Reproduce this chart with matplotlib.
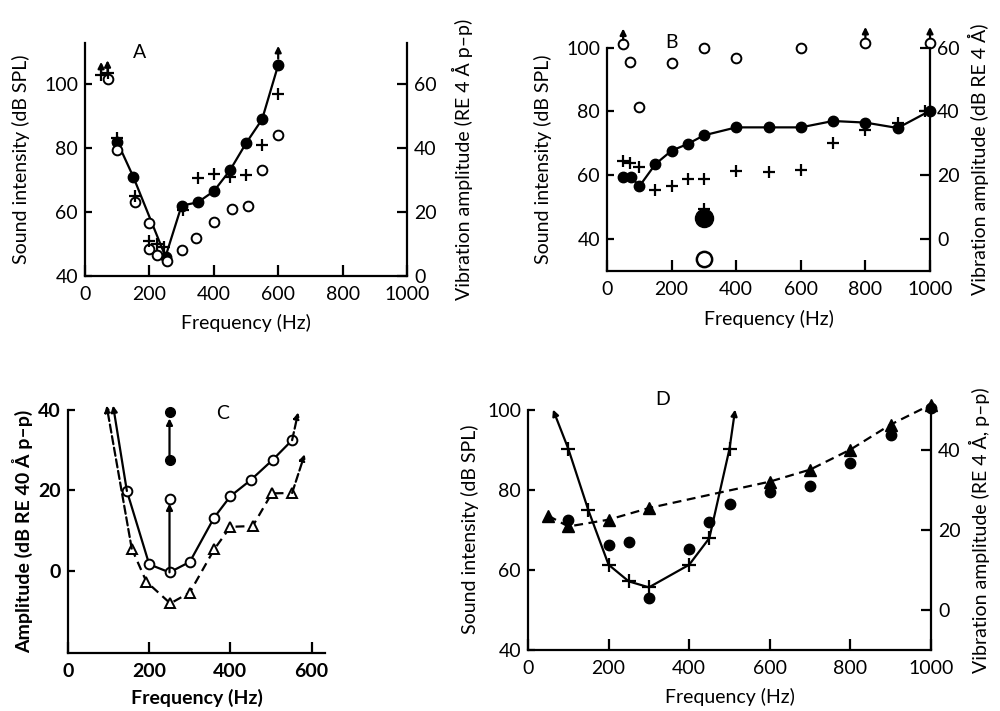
"""
Four-panel threshold / vibration-amplitude figure (panels A-D) redrawn with matplotlib.
"""

import matplotlib

matplotlib.use("Agg")
import matplotlib.pyplot as plt

plt.rcParams["font.family"] = ["Lato", "DejaVu Sans"]

# ---- panel A ---------------------------------------------------------------
A_FILLED_X = [100, 150, 250, 300, 350, 400, 450, 500, 550, 600]
A_FILLED_Y = [82, 71, 46, 62, 63, 66.5, 73, 81.5, 89, 106]
A_PLUS_X = [50, 70, 100, 155, 200, 225, 245, 305, 350, 400, 450, 500, 550, 600]
A_PLUS_Y = [103, 103.5, 83, 65, 51, 50, 49, 60.5, 70.5, 72, 71, 71.5, 81, 97]
A_OPEN_X = [70, 100, 155, 200, 200, 225, 255, 300, 345, 400, 455, 505, 550, 600]
A_OPEN_Y = [101.5, 79.5, 63, 56.5, 48.5, 46.5, 44.5, 48, 52, 57, 61, 62, 73, 84]

# ---- panel B ---------------------------------------------------------------
B_FILLED_X = [50, 75, 100, 150, 200, 250, 300, 400, 500, 600, 700, 800, 900, 1000]
B_FILLED_Y = [59.5, 59.5, 56.5, 63.5, 67.7, 69.8, 72.5, 75, 75, 75, 77, 76.5, 74.8, 80.2]
B_PLUS_X = [50, 72, 100, 150, 200, 250, 300, 400, 500, 600, 700, 800, 900, 985]
B_PLUS_Y = [64.5, 63.7, 62.7, 55.4, 56.7, 58.8, 58.8, 61.4, 60.9, 61.6, 70, 74.2, 76.5, 80.1]
B_OPEN_X = [50, 70, 100, 200, 300, 400, 600, 800, 1000]
B_OPEN_Y = [101, 95.6, 81.5, 95.3, 100, 96.6, 99.8, 101.5, 101.5]
B_BIG_FILLED = (300, 46.5)
B_BIG_OPEN = (300, 33.6)

# ---- panel C ---------------------------------------------------------------
C_OPEN_X = [145, 200, 250, 300, 360, 400, 450, 505, 552]
C_OPEN_Y = [19.8, 1.6, -0.4, 2.2, 13.2, 18.5, 22.5, 27.6, 32.4]
C_TRI_X = [157, 193, 252, 300, 360, 400, 455, 502, 552]
C_TRI_Y = [5.5, -2.7, -8.1, -5.4, 5.3, 10.9, 11.1, 19.2, 19.3]
C_VERT_OPEN = (250, 17.9)
C_VERT_FILLED_X = [250, 250]
C_VERT_FILLED_Y = [27.4, 39.3]

# ---- panel D ---------------------------------------------------------------
D_PLUS_X = [100, 150, 200, 250, 300, 400, 450, 500]
D_PLUS_Y = [90.2, 74.8, 61.25, 57.1, 55.6, 61.25, 67.9, 90.2]
D_TRI_X = [50, 100, 200, 300, 600, 700, 800, 900, 1000]
D_TRI_Y = [73.5, 70.8, 72.5, 75.4, 82, 85, 90, 96.25, 101.25]
D_FILLED_X = [100, 200, 250, 300, 400, 450, 500, 600, 700, 800, 900, 1000]
D_FILLED_Y = [72.5, 66.1, 66.9, 52.9, 65.2, 71.8, 76.5, 79.3, 81, 86.7, 93.75, 100.4]

TICK_SIZE = 14
LABEL_SIZE = 14
LW = 1.6


def style_axes(ax, bold=False):
    weight = "bold" if bold else "normal"
    ax.spines["top"].set_visible(False)
    ax.spines["right"].set_visible(False)
    for side in ("left", "bottom"):
        ax.spines[side].set_linewidth(LW)
    ax.tick_params(axis="both", direction="in", width=LW, labelsize=TICK_SIZE)
    ax.tick_params(axis="x", length=8, pad=7)
    ax.tick_params(axis="y", length=5, pad=5)
    for lab in ax.get_xticklabels() + ax.get_yticklabels():
        lab.set_fontweight(weight)
    ax.set_facecolor("none")


def add_right_axis(ax, offset, ticks, label, labelpad=6):
    lo, hi = ax.get_ylim()
    rax = ax.twinx()
    rax.set_ylim(lo - offset, hi - offset)
    rax.set_yticks(ticks)
    for side in ("top", "left", "bottom"):
        rax.spines[side].set_visible(False)
    rax.spines["right"].set_linewidth(LW)
    rax.tick_params(axis="y", direction="in", length=7, width=LW, labelsize=TICK_SIZE, pad=5)
    rax.set_ylabel(label, fontsize=LABEL_SIZE, labelpad=labelpad)
    return rax


def arrow(ax, start, end, ls="-"):
    ax.annotate(
        "",
        xy=end,
        xytext=start,
        annotation_clip=False,
        arrowprops=dict(arrowstyle="-|>", color="black", lw=LW, linestyle=ls,
                        mutation_scale=9, shrinkA=0, shrinkB=0),
    )


def panel_a(fig):
    ax = fig.add_axes([0.085, 0.612, 0.322, 0.328])
    ax.set_xlim(0, 1000)
    ax.set_ylim(40, 113)
    ax.set_xticks([0, 200, 400, 600, 800, 1000])
    ax.set_yticks([40, 60, 80, 100])
    ax.plot(A_FILLED_X, A_FILLED_Y, "-", color="black", lw=LW, marker="o", ms=7.5, clip_on=False)
    ax.plot(A_OPEN_X, A_OPEN_Y, "o", mfc="white", mec="black", mew=1.4, ms=7, clip_on=False)
    ax.plot(A_PLUS_X, A_PLUS_Y, "+", color="black", mew=1.6, ms=8, clip_on=False)
    arrow(ax, (A_FILLED_X[-1], A_FILLED_Y[-1] + 2), (A_FILLED_X[-1], A_FILLED_Y[-1] + 6))
    for x, y in zip(A_PLUS_X[:2], A_PLUS_Y[:2]):
        arrow(ax, (x, y), (x, y + 4))
    ax.text(170, 110, "A", fontsize=LABEL_SIZE, ha="center", va="center")
    ax.set_xlabel("Frequency (Hz)", fontsize=LABEL_SIZE, labelpad=8)
    ax.set_ylabel("Sound intensity (dB SPL)", fontsize=LABEL_SIZE, labelpad=10)
    style_axes(ax)
    add_right_axis(ax, 40, [0, 20, 40, 60], "Vibration amplitude (RE 4 Å p–p)", labelpad=11)


def panel_b(fig):
    ax = fig.add_axes([0.607, 0.619, 0.323, 0.314])
    ax.set_xlim(0, 1000)
    ax.set_ylim(30, 100)
    ax.set_xticks([0, 200, 400, 600, 800, 1000])
    ax.set_yticks([40, 60, 80, 100])
    ax.plot(B_FILLED_X, B_FILLED_Y, "-", color="black", lw=LW, marker="o", ms=7.5, clip_on=False, zorder=3)
    ax.plot(B_PLUS_X, B_PLUS_Y, "+", color="black", mew=1.6, ms=8, clip_on=False)
    ax.plot(B_OPEN_X, B_OPEN_Y, "o", mfc="white", mec="black", mew=1.4, ms=7, clip_on=False)
    ax.plot(*B_BIG_FILLED, "o", color="black", ms=13, clip_on=False)
    ax.plot(B_BIG_FILLED[0], B_BIG_FILLED[1] + 3, "+", color="black", mew=1.6, ms=8)
    ax.plot(*B_BIG_OPEN, "o", mfc="white", mec="black", mew=1.8, ms=11, clip_on=False)
    for i in (0, 7, 8):
        x, y = B_OPEN_X[i], B_OPEN_Y[i]
        arrow(ax, (x, y + 1.5), (x, y + 5))
    ax.text(200, 101.5, "B", fontsize=LABEL_SIZE, ha="center", va="center")
    ax.set_xlabel("Frequency (Hz)", fontsize=LABEL_SIZE, labelpad=9)
    ax.set_ylabel("Sound intensity (dB SPL)", fontsize=LABEL_SIZE, labelpad=10)
    style_axes(ax)
    add_right_axis(ax, 40, [0, 20, 40, 60], "Vibration amplitude (dB RE 4 Å)")


def panel_c(fig):
    ax = fig.add_axes([0.068, 0.081, 0.257, 0.343])
    ax.set_xlim(0, 633)
    ax.set_ylim(-20.5, 40)
    ax.set_xticks([0, 200, 400, 600])
    ax.set_yticks([0, 20, 40])
    ax.plot(C_OPEN_X, C_OPEN_Y, "-", color="black", lw=LW, marker="o",
            mfc="white", mec="black", mew=1.4, ms=7, zorder=3)
    ax.plot(C_TRI_X, C_TRI_Y, "--", color="black", lw=LW, marker="^",
            mfc="white", mec="black", mew=1.4, ms=7, dashes=(4, 2.5), zorder=3)
    # open ends of both curves
    arrow(ax, (C_OPEN_X[0], C_OPEN_Y[0]), (111, 41))
    arrow(ax, (C_TRI_X[0], C_TRI_Y[0]), (95, 41), ls="--")
    arrow(ax, (C_OPEN_X[-1], C_OPEN_Y[-1]), (567, 39.3), ls="--")
    arrow(ax, (C_TRI_X[-1], C_TRI_Y[-1]), (583, 28.9), ls="--")
    # vertical shifts at 250 Hz
    arrow(ax, (C_OPEN_X[2], C_OPEN_Y[2]), (C_VERT_OPEN[0], C_VERT_OPEN[1] - 1.2))
    ax.plot(*C_VERT_OPEN, "o", mfc="white", mec="black", mew=1.4, ms=7, zorder=4)
    arrow(ax, (C_VERT_FILLED_X[0], C_VERT_FILLED_Y[0]), (C_VERT_FILLED_X[1], C_VERT_FILLED_Y[1] - 1.5))
    ax.plot(C_VERT_FILLED_X, C_VERT_FILLED_Y, "o", color="black", ms=7, clip_on=False, zorder=4)
    ax.text(380, 39, "C", fontsize=LABEL_SIZE, ha="center", va="center")
    ax.set_xlabel("Frequency (Hz)", fontsize=LABEL_SIZE, fontweight="bold", labelpad=6)
    ax.set_ylabel("Amplitude (dB RE 40 Å p–p)", fontsize=LABEL_SIZE, fontweight="bold", labelpad=4)
    style_axes(ax, bold=True)


def panel_d(fig):
    ax = fig.add_axes([0.528, 0.086, 0.403, 0.338])
    ax.set_xlim(0, 1000)
    ax.set_ylim(40, 100)
    ax.set_xticks([0, 200, 400, 600, 800, 1000])
    ax.set_yticks([40, 60, 80, 100])
    ax.plot(D_PLUS_X, D_PLUS_Y, "-", color="black", lw=LW, marker="+", mew=1.6, ms=10, zorder=3)
    arrow(ax, (D_PLUS_X[0], D_PLUS_Y[0]), (62, 100))
    arrow(ax, (D_PLUS_X[-1], D_PLUS_Y[-1]), (514, 100))
    ax.plot(D_TRI_X, D_TRI_Y, "--", color="black", lw=LW, marker="^", ms=8.5,
            dashes=(4, 2.5), clip_on=False, zorder=3)
    ax.plot(D_FILLED_X, D_FILLED_Y, "o", color="black", ms=7.5, clip_on=False, zorder=3)
    ax.text(334, 102.5, "D", fontsize=LABEL_SIZE, ha="center", va="center")
    ax.set_xlabel("Frequency (Hz)", fontsize=LABEL_SIZE, labelpad=8)
    ax.set_ylabel("Sound intensity (dB SPL)", fontsize=LABEL_SIZE, labelpad=6)
    style_axes(ax)
    add_right_axis(ax, 50, [0, 20, 40], "Vibration amplitude (RE 4 Å, p–p)")


def main():
    fig = plt.figure(figsize=(10, 7.11), dpi=100)
    panel_a(fig)
    panel_b(fig)
    panel_c(fig)
    panel_d(fig)
    fig.savefig("out.png", dpi=100, facecolor="white")
    plt.close(fig)


if __name__ == "__main__":
    main()
